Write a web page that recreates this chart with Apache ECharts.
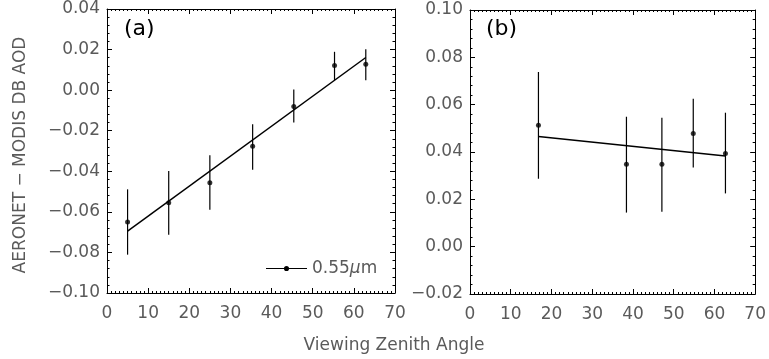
<!DOCTYPE html>
<html>
<head>
<meta charset="utf-8">
<script src="https://cdn.jsdelivr.net/npm/echarts@6/dist/echarts.min.js"></script>
<style>html,body{margin:0;padding:0;background:#fff}#c{width:769px;height:359px}</style>
</head>
<body>
<div id="c"></div>
<script>
// Panel (a)
const xA   = [5, 15, 25, 35.4, 45.4, 55.3, 62.9];
const yA   = [-0.065, -0.0555, -0.0456, -0.0277, -0.0081, 0.0122, 0.0128];
const loA  = [-0.0811, -0.0713, -0.0589, -0.0392, -0.016, 0.0049, 0.0049];
const hiA  = [-0.0489, -0.0398, -0.0321, -0.0168, 0.0003, 0.0189, 0.0201];
const fitAx = [5, 62.9];
const fitAy = [-0.0695, 0.0161];
// Panel (b)
const xB   = [16.8, 38.4, 47.1, 54.8, 62.7];
const yB   = [0.0513, 0.0348, 0.0348, 0.0478, 0.0394];
const loB  = [0.0287, 0.0144, 0.0148, 0.0334, 0.0225];
const hiB  = [0.0738, 0.0549, 0.0545, 0.0625, 0.0566];
const fitBx = [16.8, 62.7];
const fitBy = [0.0465, 0.0383];
// Axes
const xRange = [0, 70, 10];
const yRangeA = [-0.10, 0.04, 0.02];
const yRangeB = [-0.02, 0.10, 0.02];
const xTitle = 'Viewing Zenith Angle';
const yTitle = 'AERONET \u2212 MODIS DB AOD';
const legendName = '0.55\u03bcm';

const FONT = 'DejaVu Sans';
const TXT = '#5a5a5a';
const fmtY = v => Math.abs(v) < 1e-9 ? '0.00' : (v < 0 ? '\u2212' + Math.abs(v).toFixed(2) : v.toFixed(2));

function xAx(grid, pos) {
  return {
    type: 'value', gridIndex: grid, position: pos, min: xRange[0], max: xRange[1], interval: xRange[2],
    axisLine: {show: true, onZero: false, lineStyle: {color: '#000', width: 1}},
    axisTick: {show: true, inside: true, length: 5, lineStyle: {color: '#000'}},
    minorTick: {show: true, splitNumber: 10, length: 2, lineStyle: {color: '#000'}},
    splitLine: {show: false},
    axisLabel: {show: pos === 'bottom', margin: 12, color: TXT, fontFamily: FONT, fontSize: 17}
  };
}
function yAx(grid, pos, r) {
  return {
    type: 'value', gridIndex: grid, position: pos, min: r[0], max: r[1], interval: r[2],
    axisLine: {show: true, onZero: false, lineStyle: {color: '#000', width: 1}},
    axisTick: {show: true, inside: true, length: 5, lineStyle: {color: '#000'}},
    minorTick: {show: true, splitNumber: 5, length: 2.5, lineStyle: {color: '#000'}},
    splitLine: {show: false},
    axisLabel: {show: pos === 'left', margin: 7, color: TXT, fontFamily: FONT, fontSize: 17, formatter: fmtY}
  };
}
function errRender(params, api) {
  const x = api.value(0);
  const p1 = api.coord([x, api.value(1)]);
  const p2 = api.coord([x, api.value(2)]);
  return {type: 'line', shape: {x1: p1[0], y1: p1[1], x2: p2[0], y2: p2[1]}, style: {stroke: '#000', lineWidth: 1.2}};
}

const chart = echarts.init(document.getElementById('c'), null, {renderer: 'canvas'});
chart.setOption({
  animation: false,
  backgroundColor: '#fff',
  grid: [
    {left: 107, top: 9, width: 288, height: 284},
    {left: 470, top: 10, width: 288, height: 284}
  ],
  xAxis: [xAx(0, 'bottom'), xAx(0, 'top'), xAx(1, 'bottom'), xAx(1, 'top')],
  yAxis: [yAx(0, 'left', yRangeA), yAx(0, 'right', yRangeA), yAx(1, 'left', yRangeB), yAx(1, 'right', yRangeB)],
  legend: {
    data: [legendName], left: 261, top: 255, itemWidth: 41, itemHeight: 6, itemGap: 4,
    icon: 'path://M0,2.6 H40 V3.4 H0 Z M17.5,3 A2.5,2.5 0 1,1 22.5,3 A2.5,2.5 0 1,1 17.5,3 Z',
    itemStyle: {color: '#000'},
    formatter: () => '0.55{i|\u03bc}m',
    textStyle: {color: TXT, fontFamily: FONT, fontSize: 17, rich: {i: {fontStyle: 'italic', color: TXT, fontFamily: FONT, fontSize: 17}}}
  },
  graphic: [
    {type: 'text', left: 124, top: 18, style: {text: '(a)', font: '22px "DejaVu Sans"', fill: '#000'}},
    {type: 'text', left: 486, top: 18, style: {text: '(b)', font: '22px "DejaVu Sans"', fill: '#000'}},
    {type: 'text', x: 394, y: 346, style: {text: xTitle, font: '17px "DejaVu Sans"', fill: TXT, align: 'center', verticalAlign: 'middle'}},
    {type: 'text', x: 21, y: 155, rotation: Math.PI / 2, style: {text: yTitle, font: '17px "DejaVu Sans"', fill: TXT, align: 'center', verticalAlign: 'middle'}}
  ],
  series: [
    {name: legendName, type: 'line', xAxisIndex: 0, yAxisIndex: 0, data: fitAx.map((x, i) => [x, fitAy[i]]),
     symbol: 'none', lineStyle: {color: '#000', width: 1.5}, itemStyle: {color: '#000'}},
    {type: 'custom', xAxisIndex: 0, yAxisIndex: 0, data: xA.map((x, i) => [x, loA[i], hiA[i]]),
     renderItem: errRender, encode: {x: 0, y: [1, 2]}},
    {type: 'scatter', xAxisIndex: 0, yAxisIndex: 0, data: xA.map((x, i) => [x, yA[i]]),
     symbolSize: 5, itemStyle: {color: '#000'}},
    {name: 'fitB', type: 'line', xAxisIndex: 2, yAxisIndex: 2, data: fitBx.map((x, i) => [x, fitBy[i]]),
     symbol: 'none', lineStyle: {color: '#000', width: 1.5}},
    {type: 'custom', xAxisIndex: 2, yAxisIndex: 2, data: xB.map((x, i) => [x, loB[i], hiB[i]]),
     renderItem: errRender, encode: {x: 0, y: [1, 2]}},
    {type: 'scatter', xAxisIndex: 2, yAxisIndex: 2, data: xB.map((x, i) => [x, yB[i]]),
     symbolSize: 5, itemStyle: {color: '#000'}}
  ]
});
</script>
</body>
</html>
